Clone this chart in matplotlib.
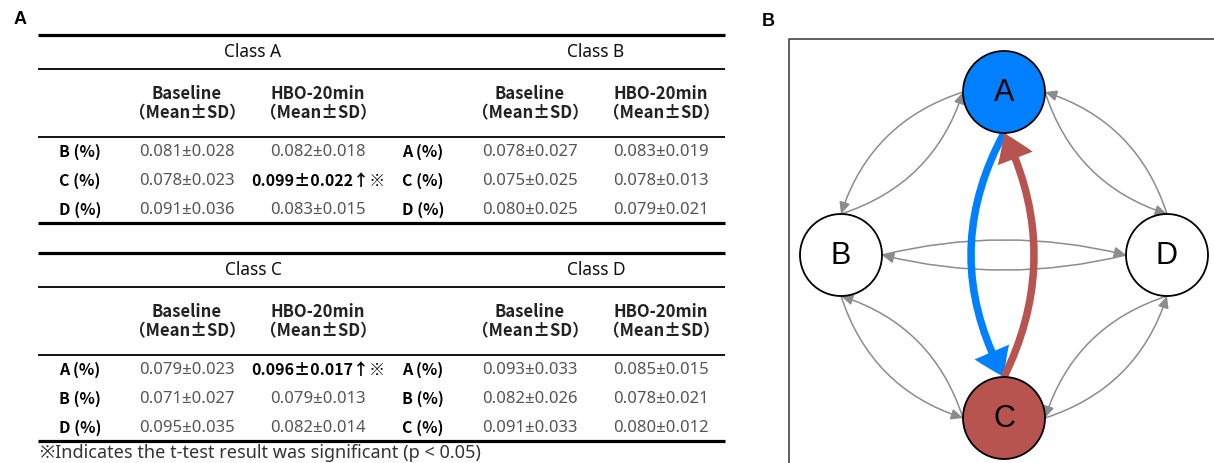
import numpy as np
import matplotlib
matplotlib.use('Agg')
import matplotlib.pyplot as plt
from matplotlib.patches import Circle, FancyArrowPatch, ArrowStyle
from matplotlib.path import Path

plt.rcParams['font.family'] = ['Noto Sans', 'DejaVu Sans', 'Noto Sans CJK SC']
bold_fam = ['Noto Sans CJK SC', 'DejaVu Sans']

# ---- table data (panel A) ----
regions = ['A', 'B', 'C', 'D']
base_mean = [[0.081, 0.078, 0.091], [0.078, 0.075, 0.080], [0.079, 0.071, 0.095], [0.093, 0.082, 0.091]]
base_sd = [[0.028, 0.023, 0.036], [0.027, 0.025, 0.025], [0.023, 0.027, 0.035], [0.033, 0.026, 0.033]]
hbo_mean = [[0.082, 0.099, 0.083], [0.083, 0.078, 0.079], [0.096, 0.079, 0.082], [0.085, 0.078, 0.080]]
hbo_sd = [[0.018, 0.022, 0.015], [0.019, 0.013, 0.021], [0.017, 0.013, 0.014], [0.015, 0.021, 0.012]]
signif = [[0, 1, 0], [0, 0, 0], [1, 0, 0], [0, 0, 0]]
footnote = '※Indicates the t-test result was significant (p < 0.05)'

# ---- network data (panel B) ----
node_fill = {'A': '#0080ff', 'B': 'white', 'C': '#b85450', 'D': 'white'}
# src, dst, src port, dst port, bulge (px, along left normal), kind
edges = [
    ('A', 'B', 'l', 't', -22, 'gray'),
    ('B', 'A', 't', 'l', -22, 'gray'),
    ('D', 'A', 't', 'r', -22, 'gray'),
    ('A', 'D', 'r', 't', -22, 'gray'),
    ('B', 'C', 'b', 'l', -22, 'gray'),
    ('C', 'B', 'l', 'b', -22, 'gray'),
    ('C', 'D', 'r', 'b', -22, 'gray'),
    ('D', 'C', 'b', 'r', -22, 'gray'),
    ('B', 'D', 'r', 'l', 15, 'gray'),
    ('D', 'B', 'l', 'r', 15, 'gray'),
    ('A', 'C', 'b', 't', -33, 'blue'),
    ('C', 'A', 't', 'b', -30, 'red'),
]

W, H = 1214, 463
fig = plt.figure(figsize=(W / 100, H / 100), dpi=100)
ax = fig.add_axes([0, 0, 1, 1])
ax.set_xlim(0, W)
ax.set_ylim(H, 0)
ax.axis('off')

# panel letters
ax.text(20, 20, 'A', fontsize=13, fontweight='bold', family='Liberation Sans', ha='center', va='center')
ax.text(768, 22, 'B', fontsize=13, fontweight='bold', family='Liberation Sans', ha='center', va='center')

# ---- panel A tables ----
x_left, x_right = 38, 725
val_color = '#555555'
for i, reg in enumerate(regions):
    y0 = 35 + 218 * (i // 2)
    dx = 343 * (i % 2)
    others = [r for r in regions if r != reg]
    if i % 2 == 0:
        ax.plot([x_left, x_right], [y0, y0], color='black', lw=2.3, solid_capstyle='butt')
        ax.plot([x_left, x_right], [y0 + 34, y0 + 34], color='black', lw=1.3, solid_capstyle='butt')
        ax.plot([x_left, x_right], [y0 + 102, y0 + 102], color='black', lw=1.3, solid_capstyle='butt')
        ax.plot([x_left, x_right], [y0 + 188, y0 + 188], color='black', lw=2.3, solid_capstyle='butt')
    ax.text(253 + dx, y0 + 17, 'Class ' + reg, fontsize=12.5, family=['Noto Sans', 'DejaVu Sans'],
            color='#111111', ha='center', va='center')
    for xc, head in [(187 + dx, 'Baseline'), (318 + dx, 'HBO-20min')]:
        ax.text(xc, y0 + 59, head, fontsize=12, family=bold_fam, fontweight='bold', color='#222222',
                ha='center', va='center')
        ax.text(xc, y0 + 78, '（Mean±SD）', fontsize=12, family=bold_fam, fontweight='bold', color='#222222',
                ha='center', va='center')
    for j in range(3):
        yy = y0 + 117 + 29 * j
        ax.text(80 + dx, yy, others[j] + ' (%)', fontsize=11.5, family=bold_fam, fontweight='bold',
                color='black', ha='center', va='center')
        ax.text(187 + dx, yy, '%.3f±%.3f' % (base_mean[i][j], base_sd[i][j]), fontsize=12, color=val_color,
                ha='center', va='center')
        if signif[i][j]:
            ax.text(318 + dx, yy, '%.3f±%.3f↑※' % (hbo_mean[i][j], hbo_sd[i][j]), fontsize=11.5,
                    family=bold_fam, fontweight='bold', color='black', ha='center', va='center')
        else:
            ax.text(318 + dx, yy, '%.3f±%.3f' % (hbo_mean[i][j], hbo_sd[i][j]), fontsize=12, color=val_color,
                    ha='center', va='center')

ax.text(40, 453, footnote, fontsize=13, color='#333333', ha='left', va='center')

# ---- panel B network ----
ax.plot([789, 789, W], [H, 39, 39], color='#444444', lw=1.2)

cx, cy, R, r = 1004, 255, 163, 41
pos = {'A': (cx, cy - R), 'B': (cx - R, cy), 'C': (cx, cy + R), 'D': (cx + R, cy)}
ports = {'l': (-r, 0), 'r': (r, 0), 't': (0, -r), 'b': (0, r)}

gray_style = ArrowStyle('-|>', head_length=0.7, head_width=0.32)
for src, dst, ps, pd, bulge, kind in edges:
    p0 = np.array(pos[src]) + ports[ps]
    p1 = np.array(pos[dst]) + ports[pd]
    d = p1 - p0
    n = np.array([d[1], -d[0]]) / np.hypot(*d)
    ctrl = (p0 + p1) / 2 + 2 * bulge * n
    path = Path([p0, ctrl, p1], [Path.MOVETO, Path.CURVE3, Path.CURVE3])
    if kind == 'gray':
        arr = FancyArrowPatch(path=path, arrowstyle=gray_style, mutation_scale=10,
                              color='#8c8c8c', lw=1.1, zorder=2)
    else:
        col = '#0080ff' if kind == 'blue' else '#b85450'
        arr = FancyArrowPatch(path=path, arrowstyle=ArrowStyle('simple', head_length=1.0, head_width=1.35, tail_width=0.27),
                              mutation_scale=20, color=col, lw=0, zorder=3)
    ax.add_patch(arr)

for name, (x, y) in pos.items():
    ax.add_patch(Circle((x, y), r, facecolor=node_fill[name], edgecolor='black', lw=1.3, zorder=4))
    ax.text(x, y + 1, name, fontsize=22, family='Liberation Sans', ha='center', va='center', zorder=5)

fig.savefig('out.png', dpi=100)
